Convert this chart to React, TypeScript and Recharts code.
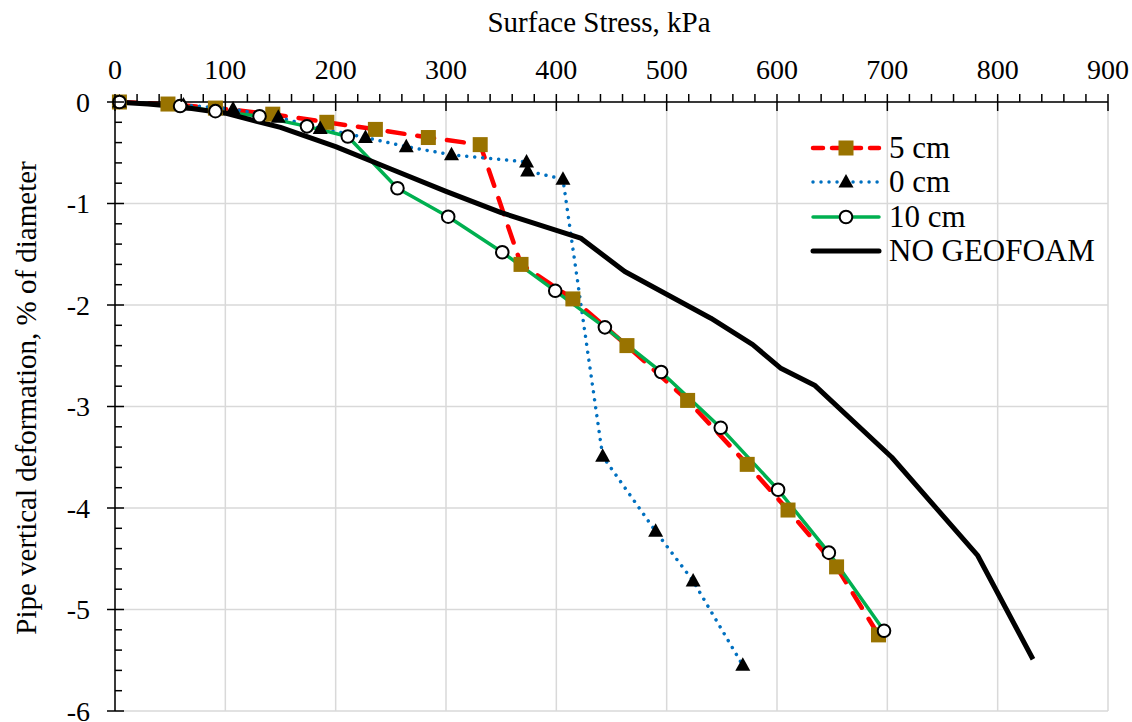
import React from "react";
import { LineChart, Line, XAxis, YAxis, CartesianGrid, Legend } from "recharts";

const FONT = "'Times New Roman', 'Liberation Serif', serif";

// major ticks (labels) on both axes
const stressTicks = [0, 100, 200, 300, 400, 500, 600, 700, 800, 900];
const deformTicks = [0, -1, -2, -3, -4, -5, -6];

// 5 cm geofoam
const stress5cm = [4, 48, 91, 143, 192, 236, 284, 331, 368, 415, 464, 519, 573, 610, 654, 692];
const deform5cm = [0, -0.02, -0.06, -0.12, -0.2, -0.27, -0.35, -0.42, -1.6, -1.94, -2.4, -2.94, -3.57, -4.02, -4.58, -5.25];

// 0 cm geofoam
const stress0cm = [4, 62, 107, 148, 186, 227, 264, 305, 373, 374, 406, 442, 490, 524, 569];
const deform0cm = [0, -0.03, -0.07, -0.15, -0.26, -0.35, -0.44, -0.52, -0.59, -0.68, -0.76, -3.49, -4.23, -4.72, -5.55];

// 10 cm geofoam
const stress10cm = [4, 59, 91, 131, 174, 211, 256, 302, 351, 399, 444, 495, 549, 601, 647, 697];
const deform10cm = [0, -0.04, -0.09, -0.14, -0.24, -0.34, -0.85, -1.13, -1.48, -1.86, -2.22, -2.66, -3.21, -3.82, -4.44, -5.21];

// no geofoam
const stressNone = [0, 30, 60, 100, 150, 200, 250, 300, 350, 422, 462, 540, 578, 603, 634, 704, 782, 832];
const deformNone = [0, -0.02, -0.05, -0.11, -0.25, -0.44, -0.66, -0.88, -1.09, -1.34, -1.67, -2.13, -2.39, -2.62, -2.79, -3.5, -4.47, -5.49];

const toPoints = (xs: number[], ys: number[]) => xs.map((x, i) => ({ stress: x, deform: ys[i] }));

// minor ticks: every 20 kPa and every 0.2 %
const xMinor = stressTicks.flatMap((t) => (t === 900 ? [t] : [t, t + 20, t + 40, t + 60, t + 80]));
const yMinor = deformTicks.flatMap((t) =>
  t === -6 ? [t] : [0, 0.2, 0.4, 0.6, 0.8].map((d) => Math.round((t - d) * 10) / 10)
);

type Kind = "square" | "triangle" | "circle" | "none";

const SERIES = [
  { name: "5 cm", data: toPoints(stress5cm, deform5cm), stroke: "#ff0000", width: 4.5, dash: "17 13", marker: "square" as Kind },
  { name: "0 cm", data: toPoints(stress0cm, deform0cm), stroke: "#0070c0", width: 3.5, dash: "0.01 8", marker: "triangle" as Kind },
  { name: "10 cm", data: toPoints(stress10cm, deform10cm), stroke: "#00b050", width: 3.5, dash: undefined, marker: "circle" as Kind },
  { name: "NO GEOFOAM", data: toPoints(stressNone, deformNone), stroke: "#000000", width: 5, dash: undefined, marker: "none" as Kind },
];

function Marker({ kind, cx, cy }: { kind: Kind; cx: number; cy: number }) {
  if (kind === "square") return <rect x={cx - 7.5} y={cy - 7.5} width={15} height={15} fill="#997300" />;
  if (kind === "triangle")
    return <polygon points={`${cx},${cy - 8} ${cx + 7.5},${cy + 5.5} ${cx - 7.5},${cy + 5.5}`} fill="#000" />;
  if (kind === "circle") return <circle cx={cx} cy={cy} r={6.3} fill="#fff" stroke="#000" strokeWidth={2} />;
  return null;
}

const makeDot = (kind: Kind) => (props: any) => {
  const { cx, cy, index } = props;
  if (cx == null || cy == null) return <g key={`d-${kind}-${index}`} />;
  return (
    <g key={`d-${kind}-${index}`}>
      <Marker kind={kind} cx={cx} cy={cy} />
    </g>
  );
};

// top axis: tickSize 0, tickMargin 23 -> axis line is 23px below the label
function StressTick(props: any) {
  const { x, y, payload } = props;
  const axisY = y + 23;
  const major = payload.value % 100 === 0;
  return (
    <g>
      <line x1={x} x2={x} y1={axisY - 8} y2={major ? axisY + 9 : axisY} stroke="#000" strokeWidth={1.5} />
      {major && (
        <text x={x} y={y} textAnchor="middle" fontFamily={FONT} fontSize={28} fill="#000">
          {payload.value}
        </text>
      )}
    </g>
  );
}

// left axis: tickSize 0, tickMargin 25
function DeformTick(props: any) {
  const { x, y, payload } = props;
  const axisX = x + 25;
  const major = Number.isInteger(payload.value);
  return (
    <g>
      <line x1={major ? axisX - 8 : axisX} x2={axisX + (major ? 9 : 7)} y1={y} y2={y} stroke="#000" strokeWidth={1.5} />
      {major && (
        <text x={x} y={y} dy="0.35em" textAnchor="end" fontFamily={FONT} fontSize={28} fill="#000">
          {payload.value}
        </text>
      )}
    </g>
  );
}

function ChartLegend() {
  return (
    <div style={{ fontFamily: FONT, fontSize: 31, color: "#000" }}>
      {SERIES.map((s) => (
        <div key={s.name} style={{ display: "flex", alignItems: "center", height: 34.3 }}>
          <svg width={72} height={20} style={{ overflow: "visible" }}>
            <line
              x1={3}
              x2={69}
              y1={10}
              y2={10}
              stroke={s.stroke}
              strokeWidth={s.width}
              strokeDasharray={s.dash === "17 13" ? "10 9" : s.dash}
              strokeLinecap="round"
            />
            <Marker kind={s.marker} cx={36} cy={10} />
          </svg>
          <span style={{ marginLeft: 7, lineHeight: "34px", whiteSpace: "nowrap" }}>{s.name}</span>
        </div>
      ))}
    </div>
  );
}

export default function App() {
  return (
    <div style={{ position: "absolute", left: 0, top: 0, background: "#fff" }}>
      <LineChart width={1132} height={722} margin={{ top: 42, right: 24, bottom: 11, left: 35 }}>
        <CartesianGrid
          stroke="#d9d9d9"
          strokeWidth={1.5}
          verticalValues={stressTicks}
          horizontalValues={deformTicks}
        />
        <XAxis
          type="number"
          dataKey="stress"
          orientation="top"
          domain={[0, 900]}
          ticks={xMinor}
          interval={0}
          height={60}
          tickSize={0}
          tickMargin={23}
          tickLine={false}
          axisLine={{ stroke: "#000", strokeWidth: 1.5 }}
          tick={(p: any) => <StressTick {...p} />}
        />
        <YAxis
          type="number"
          dataKey="deform"
          domain={[-6, 0]}
          ticks={yMinor}
          interval={0}
          width={80}
          tickSize={0}
          tickMargin={25}
          tickLine={false}
          axisLine={{ stroke: "#000", strokeWidth: 1.5 }}
          tick={(p: any) => <DeformTick {...p} />}
        />
        <Legend
          layout="vertical"
          align="center"
          verticalAlign="middle"
          wrapperStyle={{ left: 810, top: 131, width: 320 }}
          content={() => <ChartLegend />}
        />
        {SERIES.map((s) => (
          <Line
            key={s.name}
            name={s.name}
            data={s.data}
            dataKey="deform"
            type="linear"
            stroke={s.stroke}
            strokeWidth={s.width}
            strokeDasharray={s.dash}
            strokeLinecap={s.dash ? "round" : "butt"}
            strokeLinejoin="round"
            dot={s.marker === "none" ? false : makeDot(s.marker)}
            activeDot={false}
            isAnimationActive={false}
          />
        ))}
        <text x={599} y={32} textAnchor="middle" fontFamily={FONT} fontSize={29} fill="#000">
          Surface Stress, kPa
        </text>
        <text transform="translate(36,398) rotate(-90)" textAnchor="middle" fontFamily={FONT} fontSize={29} fill="#000">
          Pipe vertical deformation, % of diameter
        </text>
      </LineChart>
    </div>
  );
}
